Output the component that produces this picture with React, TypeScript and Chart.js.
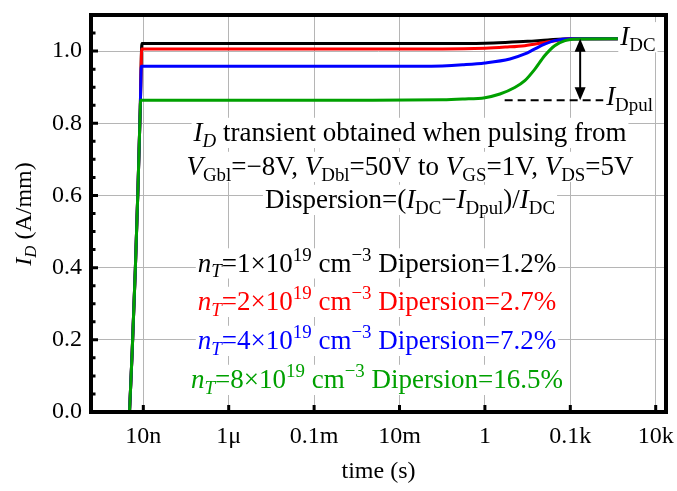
import React, { useEffect, useRef } from "react";
import { Chart, registerables } from "chart.js";

Chart.register(...registerables);

// ---------- data ----------
const xTickValues = [1e-8, 1e-6, 1e-4, 1e-2, 1, 1e2, 1e4];
const xTickLabels = ["10n", "1\u03bc", "0.1m", "10m", "1", "0.1k", "10k"];
const yTickValues = [0, 0.2, 0.4, 0.6, 0.8, 1.0];
const yMinorValues = [0.05, 0.1, 0.15, 0.25, 0.3, 0.35, 0.45, 0.5, 0.55, 0.65, 0.7, 0.75, 0.85, 0.9, 0.95, 1.05];

const riseT = [4.75e-9, 5.5e-9, 6.5e-9, 7.5e-9, 8.5e-9];
const riseI = [0, 0.17, 0.395, 0.62, 0.845];

const blackT = [...riseT, 9.27e-9, 1e-6, 1e-3, 0.1, 1, 3, 10, 30, 100, 1300];
const blackI = [...riseI, 1.021, 1.021, 1.021, 1.021, 1.022, 1.024, 1.027, 1.031, 1.034, 1.034];

const redT = [...riseT, 9.2e-9, 1e-6, 1e-3, 0.1, 1, 3, 8.6, 25, 57, 100, 1300];
const redI = [...riseI, 1.006, 1.006, 1.006, 1.006, 1.008, 1.011, 1.015, 1.024, 1.031, 1.034, 1.034];

const blueT = [...riseT, 9.0e-9, 1e-6, 1e-3, 0.03, 0.1, 0.3, 1, 3.85, 8.6, 14.8, 25, 43, 100, 1300];
const blueI = [...riseI, 0.958, 0.958, 0.958, 0.958, 0.959, 0.962, 0.967, 0.978, 0.992, 1.006, 1.019, 1.029, 1.034, 1.034];

const greenT = [...riseT, 8.6e-9, 1e-6, 1e-3, 0.1, 0.3, 1, 2.25, 5, 8.6, 14.8, 25, 43, 75, 115, 1300];
const greenI = [...riseI, 0.864, 0.864, 0.864, 0.865, 0.867, 0.871, 0.881, 0.899, 0.918, 0.95, 0.987, 1.015, 1.029, 1.033, 1.034];

const dashT = [2.9, 590];
const dashI = [0.864, 0.864];

const iDC = 1.034;
const iDpul = 0.864;
const arrowT = 170;
const labelDCT = 1480;
const labelDpulT = 690;

const nTValues = [1, 2, 4, 8];
const dispersions = ["1.2", "2.7", "7.2", "16.5"];
const seriesColors = ["#000000", "#ff0000", "#0000ff", "#00a000"];

const X_MIN = Math.pow(10, -9.225);
const X_MAX = Math.pow(10, 4.241);

// ---------- rich text ----------
type Seg = { t: string; it?: boolean; sub?: boolean; sup?: boolean };
const FAMILY = "'Liberation Serif'";

function segFont(s: Seg, size: number) {
  const sz = s.sub || s.sup ? size * 0.7 : size;
  return `${s.it ? "italic" : "normal"} normal ${sz}px ${FAMILY}`;
}

function drawRich(
  ctx: CanvasRenderingContext2D,
  segs: Seg[],
  x: number,
  baseline: number,
  color: string,
  size: number,
  align: "center" | "left" = "center",
  bg = true
) {
  ctx.save();
  ctx.textBaseline = "alphabetic";
  ctx.textAlign = "left";
  let w = 0;
  const widths = segs.map((s) => {
    ctx.font = segFont(s, size);
    const m = ctx.measureText(s.t).width;
    w += m;
    return m;
  });
  let sx = align === "center" ? x - w / 2 : x;
  if (bg) {
    ctx.fillStyle = "#ffffff";
    ctx.fillRect(sx - 2, baseline - size * 0.86, w + 4, size * 1.12);
  }
  ctx.fillStyle = color;
  segs.forEach((s, i) => {
    ctx.font = segFont(s, size);
    const dy = s.sub ? size * 0.22 : s.sup ? -size * 0.4 : 0;
    ctx.fillText(s.t, sx, baseline + dy);
    sx += widths[i];
  });
  ctx.restore();
}

const TXT = 27;

const infoLines: Seg[][] = [
  [{ t: "I", it: true }, { t: "D", it: true, sub: true }, { t: " transient obtained when pulsing from" }],
  [
    { t: "V", it: true }, { t: "Gbl", sub: true }, { t: "=\u22128V, " },
    { t: "V", it: true }, { t: "Dbl", sub: true }, { t: "=50V to " },
    { t: "V", it: true }, { t: "GS", sub: true }, { t: "=1V, " },
    { t: "V", it: true }, { t: "DS", sub: true }, { t: "=5V" },
  ],
  [
    { t: "Dispersion=(" }, { t: "I", it: true }, { t: "DC", sub: true }, { t: "\u2212" },
    { t: "I", it: true }, { t: "Dpul", sub: true }, { t: ")/" }, { t: "I", it: true }, { t: "DC", sub: true },
  ],
];
const infoBaselines = [141, 175, 208];
const infoCenterX = 410;

const legendBaselines = [271.5, 310, 349, 388];
const legendCenterX = 377;

const annotPlugin = {
  id: "annot",
  beforeDatasetsDraw(chart: any) {
    const ctx = chart.ctx as CanvasRenderingContext2D;
    infoLines.forEach((l, i) => drawRich(ctx, l, infoCenterX, infoBaselines[i], "#000", TXT));
    nTValues.forEach((n, i) => {
      const segs: Seg[] = [
        { t: "n", it: true }, { t: "T", it: true, sub: true }, { t: `=${n}\u00d710` }, { t: "19", sup: true },
        { t: " cm" }, { t: "\u22123", sup: true }, { t: ` Dipersion=${dispersions[i]}%` },
      ];
      drawRich(ctx, segs, legendCenterX, legendBaselines[i], seriesColors[i], TXT);
    });
  },
  afterDatasetsDraw(chart: any) {
    const ctx = chart.ctx as CanvasRenderingContext2D;
    const xs = chart.scales.x;
    const ys = chart.scales.y;
    const { left, right, top, bottom } = chart.chartArea;

    // double arrow
    const ax = xs.getPixelForValue(arrowT);
    const y1 = ys.getPixelForValue(iDC);
    const y2 = ys.getPixelForValue(iDpul);
    ctx.save();
    ctx.strokeStyle = "#000";
    ctx.fillStyle = "#000";
    ctx.lineWidth = 2;
    const head = 13;
    const hw = 5.5;
    ctx.beginPath();
    ctx.moveTo(ax, y1 + head - 1);
    ctx.lineTo(ax, y2 - head + 1);
    ctx.stroke();
    ctx.beginPath();
    ctx.moveTo(ax, y1);
    ctx.lineTo(ax - hw, y1 + head);
    ctx.lineTo(ax + hw, y1 + head);
    ctx.closePath();
    ctx.fill();
    ctx.beginPath();
    ctx.moveTo(ax, y2);
    ctx.lineTo(ax - hw, y2 - head);
    ctx.lineTo(ax + hw, y2 - head);
    ctx.closePath();
    ctx.fill();
    ctx.restore();

    drawRich(ctx, [{ t: "I", it: true }, { t: "DC", sub: true }], xs.getPixelForValue(labelDCT), y1 + 6.5, "#000", TXT, "left");
    drawRich(ctx, [{ t: "I", it: true }, { t: "Dpul", sub: true }], xs.getPixelForValue(labelDpulT), y2 + 5, "#000", TXT, "left");

    // ticks
    ctx.save();
    ctx.strokeStyle = "#000";
    ctx.lineWidth = 3;
    ctx.beginPath();
    xTickValues.forEach((v) => {
      const px = xs.getPixelForValue(v);
      ctx.moveTo(px, bottom);
      ctx.lineTo(px, bottom - 7);
    });
    yTickValues.forEach((v) => {
      const py = ys.getPixelForValue(v);
      ctx.moveTo(left, py);
      ctx.lineTo(left + 7, py);
    });
    yMinorValues.forEach((v) => {
      const py = ys.getPixelForValue(v);
      ctx.moveTo(left, py);
      ctx.lineTo(left + 4.5, py);
    });
    ctx.stroke();
    // frame
    ctx.lineWidth = 4;
    ctx.strokeRect(left, top, right - left, bottom - top);
    ctx.restore();

    // axis titles
    drawRich(ctx, [{ t: "time (s)" }], (left + right) / 2, 478, "#000", 24, "center", false);
    ctx.save();
    ctx.translate(31, 214);
    ctx.rotate(-Math.PI / 2);
    drawRich(ctx, [{ t: "I", it: true }, { t: "D", it: true, sub: true }, { t: " (A/mm)" }], 0, 0, "#000", 24, "center", false);
    ctx.restore();
  },
};

function pts(t: number[], v: number[]) {
  return t.map((x, i) => ({ x, y: v[i] }));
}

export default function App() {
  const ref = useRef<HTMLCanvasElement | null>(null);
  useEffect(() => {
    if (!ref.current) return;
    const mk = (label: string, t: number[], v: number[], color: string, order: number) => ({
      label,
      data: pts(t, v),
      borderColor: color,
      backgroundColor: color,
      borderWidth: 3,
      pointRadius: 0,
      fill: false,
      cubicInterpolationMode: "monotone" as const,
      order,
    });
    const chart = new Chart(ref.current, {
      type: "line",
      data: {
        datasets: [
          mk("nT=1e19", blackT, blackI, seriesColors[0], 4),
          mk("nT=2e19", redT, redI, seriesColors[1], 3),
          mk("nT=4e19", blueT, blueI, seriesColors[2], 2),
          mk("nT=8e19", greenT, greenI, seriesColors[3], 1),
          {
            label: "IDpul",
            data: pts(dashT, dashI),
            borderColor: "#000",
            borderWidth: 2,
            borderDash: [8, 5],
            pointRadius: 0,
            fill: false,
            order: 0,
          } as any,
        ],
      },
      options: {
        responsive: false,
        animation: false,
        events: [],
        layout: { padding: { top: 15, right: 11, left: 0, bottom: 0 } },
        plugins: { legend: { display: false }, tooltip: { enabled: false } },
        scales: {
          x: {
            type: "logarithmic",
            min: X_MIN,
            max: X_MAX,
            afterBuildTicks: (s: any) => {
              s.ticks = xTickValues.map((v) => ({ value: v }));
            },
            afterFit: (s: any) => {
              s.height = 79;
              s.paddingLeft = 0;
              s.paddingRight = 0;
            },
            ticks: {
              autoSkip: false,
              maxRotation: 0,
              padding: 10,
              color: "#000",
              font: { family: FAMILY, size: 24 },
              callback: (_v: any, i: number) => xTickLabels[i],
            },
            grid: { color: "#b5b5b5", lineWidth: 1, drawTicks: false },
            border: { display: false },
          },
          y: {
            type: "linear",
            min: 0,
            max: 1.1,
            afterBuildTicks: (s: any) => {
              s.ticks = yTickValues.map((v) => ({ value: v }));
            },
            afterFit: (s: any) => {
              s.width = 91;
              s.paddingTop = 0;
              s.paddingBottom = 0;
            },
            ticks: {
              padding: 9,
              color: "#000",
              font: { family: FAMILY, size: 24 },
              callback: (v: any) => Number(v).toFixed(1),
            },
            grid: { color: "#b5b5b5", lineWidth: 1, drawTicks: false },
            border: { display: false },
          },
        },
      },
      plugins: [annotPlugin],
    } as any);
    return () => chart.destroy();
  }, []);
  return (
    <div style={{ position: "fixed", left: 0, top: 0, width: 677, height: 491, background: "#fff" }}>
      <canvas ref={ref} width={677} height={491} style={{ display: "block" }} />
    </div>
  );
}
